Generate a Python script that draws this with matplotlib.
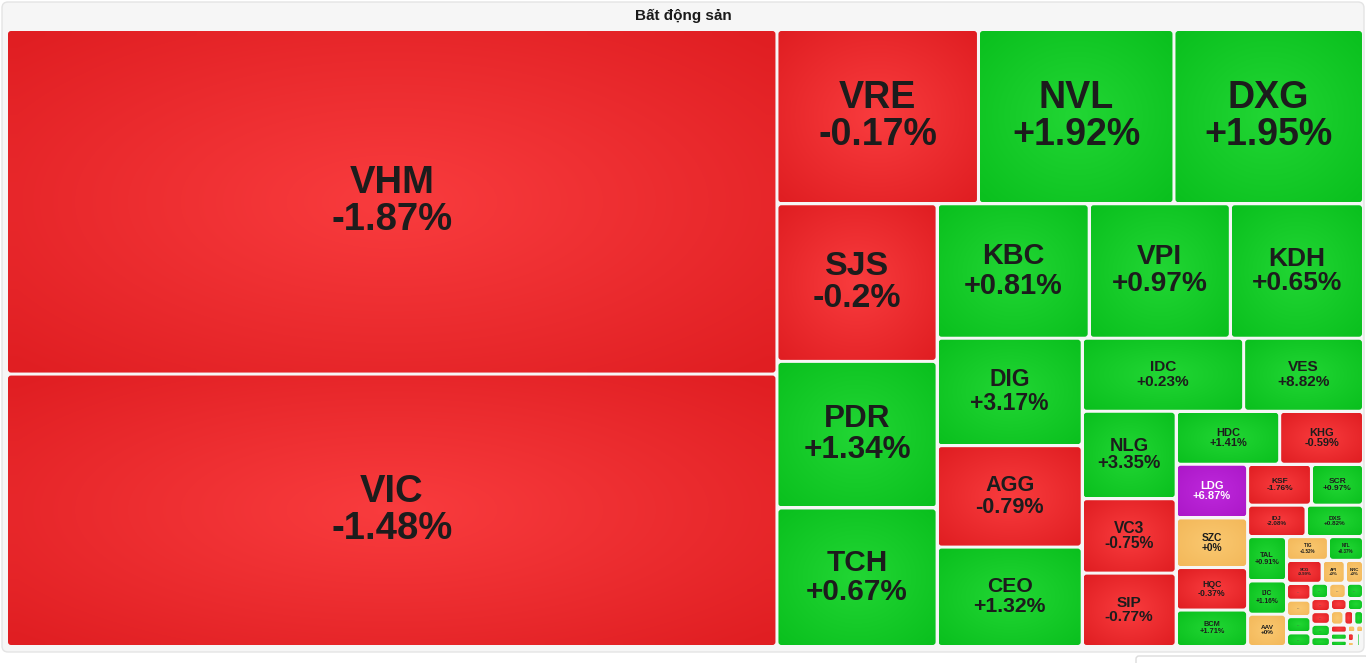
import numpy as np
import matplotlib.pyplot as plt
from matplotlib.patches import FancyBboxPatch
from matplotlib.textpath import TextPath
from matplotlib.font_manager import FontProperties

plt.rcParams['font.family'] = ['Liberation Sans', 'DejaVu Sans']

# Bất động sản heatmap: ticker, weight (market cap share), % change, colour state
tickers = ['VHM', 'VIC', 'VRE', 'NVL', 'DXG', 'SJS', 'PDR', 'TCH', 'KBC', 'VPI',
           'KDH', 'DIG', 'AGG', 'CEO', 'IDC', 'VES', 'NLG', 'VC3', 'SIP', 'HDC',
           'KHG', 'LDG', 'SZC', 'HQC', 'BCM', 'KSF', 'SCR', 'IDJ', 'DXS', 'TAL',
           'IJC', 'AAV', 'TIG', 'NTL', 'SCG', 'API', 'NRC']
weights = [264192, 208896, 34946, 33908, 32870, 25120, 23360, 22080, 20349, 18886,
           17822, 15515, 14645, 14355, 11736, 8712, 8178, 6956, 6862, 5460,
           4420, 3816, 3528, 3024, 2592, 2600, 2120, 1829, 1798, 1716,
           1287, 1250, 989, 828, 814, 528, 418]
changes = [-1.87, -1.48, -0.17, 1.92, 1.95, -0.2, 1.34, 0.67, 0.81, 0.97,
           0.65, 3.17, -0.79, 1.32, 0.23, 8.82, 3.35, -0.75, -0.77, 1.41,
           -0.59, 6.87, 0, -0.37, 1.71, -1.76, 0.97, -2.08, 0.82, 0.91,
           1.16, 0, 1.52, 0.37, -0.99, 0, 0]
states = ['down', 'down', 'down', 'up', 'up', 'down', 'up', 'up', 'up', 'up',
          'up', 'up', 'down', 'up', 'up', 'up', 'up', 'down', 'down', 'up',
          'down', 'ceil', 'ref', 'down', 'up', 'down', 'up', 'down', 'up', 'up',
          'up', 'ref', 'ref', 'up', 'down', 'ref', 'ref']

# very small stocks at the bottom-right corner (names not readable)
small_weights = [410, 400, 395, 330, 270, 265, 262, 255, 245, 240, 190, 200, 198,
                 195, 143, 140, 135, 120, 105, 65, 60, 60, 35, 35, 50, 40]
small_states = ['down', 'ref', 'up', 'up', 'up', 'ref', 'up', 'down', 'down', 'up',
                'up', 'down', 'up', 'ref', 'down', 'up', 'down', 'up', 'up', 'ref',
                'ref', 'down', 'ref', 'up', 'up', 'up']

# how many stocks go in each strip of the treemap
strips = [2, 3, 3, 3, 3, 2, 3, 2, 4, 2, 2, 3, 2, 3,
          4, 3, 4, 2, 3, 3, 2, 2, 3]

colors = {
    'down': ((249, 60, 62), (224, 30, 34)),
    'up': ((34, 214, 52), (10, 192, 30)),
    'ref': ((250, 200, 112), (243, 184, 90)),
    'ceil': ((190, 40, 220), (172, 24, 200)),
}

bold = FontProperties(family='Liberation Sans', weight='bold')


def strip_treemap(values, counts, x0, y0, x1, y1):
    # each strip runs along the shorter side of the space left over
    rects = []
    total = float(sum(values))
    i0 = 0
    for c in counts:
        row = values[i0:i0 + c]
        s = float(sum(row))
        dx, dy = x1 - x0, y1 - y0
        if dx < dy:
            h = dy * s / total
            xx = x0
            for v in row:
                w = dx * v / s
                rects.append((xx, y0, w, h))
                xx += w
            y0 += h
        else:
            w = dx * s / total
            yy = y0
            for v in row:
                h = dy * v / s
                rects.append((x0, yy, w, h))
                yy += h
            x0 += w
        total -= s
        i0 += c
    return rects


def gradient(state, n=40):
    c_in, c_out = colors[state]
    yy, xx = np.mgrid[-1:1:n * 1j, -1:1:n * 1j]
    r = np.clip(np.sqrt(xx ** 2 + yy ** 2) / 1.41, 0, 1)[..., None]
    return (np.array(c_in) * (1 - r) + np.array(c_out) * r) / 255


def em_width(lines):
    return max(TextPath((0, 0), s, size=1, prop=bold).get_extents().width for s in lines)


fig = plt.figure(figsize=(13.66, 6.63), dpi=100, facecolor='white')
ax = fig.add_axes([0, 0, 1, 1])
ax.set_xlim(0, 1366)
ax.set_ylim(663, 0)
ax.axis('off')

ax.add_patch(FancyBboxPatch((2, 2), 1362, 650, boxstyle='round,pad=0,rounding_size=6',
                            facecolor='#f6f6f6', edgecolor='#e4e4e4', lw=1))
ax.add_patch(FancyBboxPatch((1136, 656), 232, 20, boxstyle='round,pad=0,rounding_size=3',
                            facecolor='white', edgecolor='#dcdcdc', lw=1))
ax.text(683, 16, 'Bất động sản', ha='center', va='center', fontsize=11,
        fontweight='bold', color='#1a1a1a')

all_w = weights + small_weights
all_s = states + small_states
rects = strip_treemap(all_w, strips, 6.5, 29.5, 1363.5, 646.5)

gap = 1.5
px_per_pt = 100 / 72
for i, (x, y, w, h) in enumerate(rects):
    x, y, w, h = x + gap, y + gap, w - 2 * gap, h - 2 * gap
    if w <= 0 or h <= 0:
        continue
    rad = min(3, w / 3, h / 3)
    patch = FancyBboxPatch((x, y), w, h, boxstyle=f'round,pad=0,rounding_size={rad}',
                           facecolor='none', edgecolor='none')
    ax.add_patch(patch)
    im = ax.imshow(gradient(all_s[i]), extent=(x, x + w, y + h, y), aspect='auto',
                   interpolation='bilinear', zorder=2)
    im.set_clip_path(patch)

    txt_color = 'white' if all_s[i] == 'ceil' else '#1c1c1c'
    if i < len(tickers):
        lines = [tickers[i], f'{changes[i]:+g}%']
        fs = min(0.158 * h, 0.68 * w / em_width(lines) / px_per_pt, 27.5)
        ax.text(x + w / 2, y + h / 2, '\n'.join(lines), ha='center', va='center',
                fontsize=fs, fontweight='bold', color=txt_color, linespacing=1.05,
                zorder=3)
    elif w > 14 and h > 9:
        ax.text(x + w / 2, y + h / 2, '...', ha='center', va='center', fontsize=3,
                fontweight='bold', color='#555555', zorder=3)

ax.set_xlim(0, 1366)
ax.set_ylim(663, 0)
fig.savefig('out.png', dpi=100, facecolor='white')
